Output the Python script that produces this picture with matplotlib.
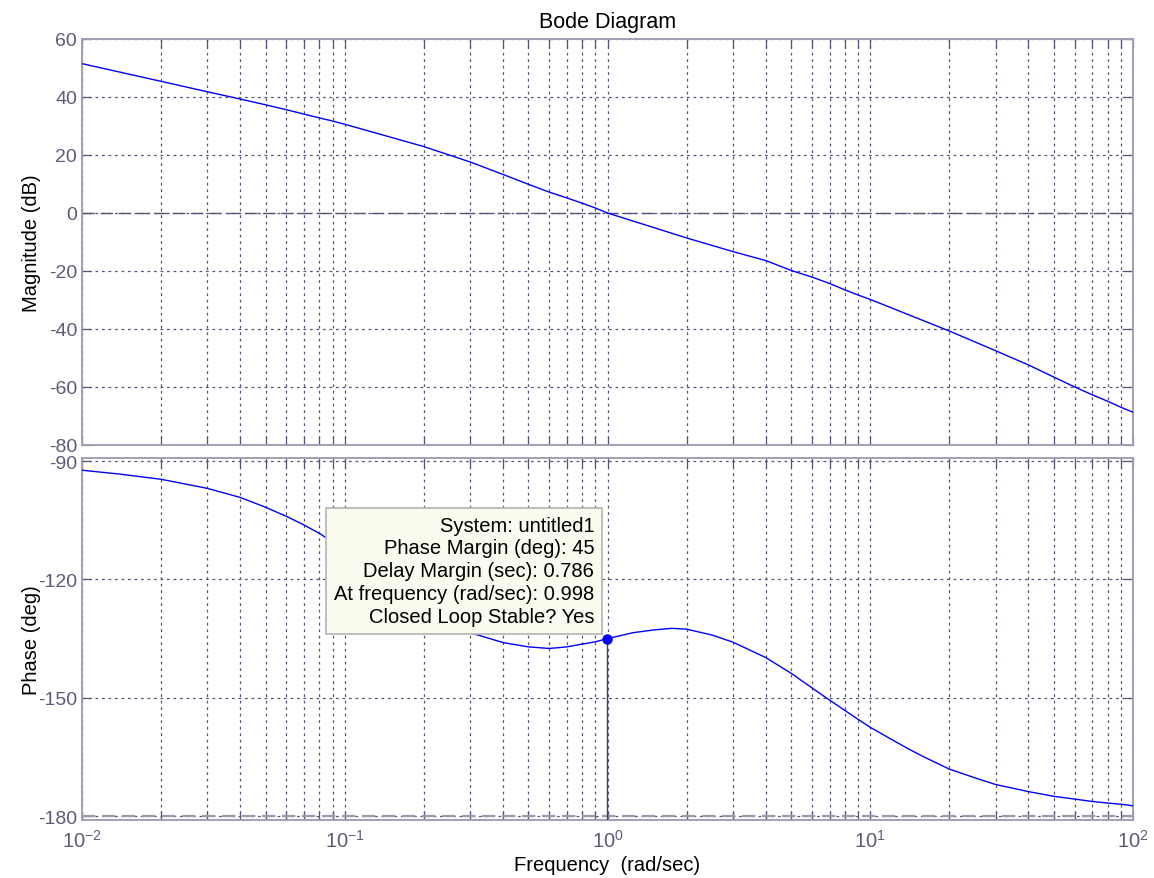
import matplotlib
matplotlib.use("Agg")
import matplotlib.pyplot as plt
from matplotlib.ticker import LogLocator, NullFormatter, FixedLocator

plt.rcParams['font.family'] = ['Liberation Sans', 'DejaVu Sans']
plt.rcParams['mathtext.fontset'] = 'custom'
plt.rcParams['mathtext.rm'] = 'Liberation Sans'
plt.rcParams['mathtext.it'] = 'Liberation Sans:italic'
plt.rcParams['axes.unicode_minus'] = False

# ---- data ----
freq_mag = [0.01, 0.02, 0.03, 0.04, 0.05, 0.06, 0.07, 0.08, 0.09, 0.1,
            0.2, 0.3, 0.4, 0.5, 0.6, 0.7, 0.8, 0.9, 1.0,
            2, 3, 4, 5, 6, 7, 8, 9, 10,
            20, 30, 40, 50, 60, 70, 80, 90, 100]
mag_db = [51.5, 45.4, 41.8, 39.3, 37.3, 35.6, 34.1, 32.8, 31.7, 30.6,
          22.9, 17.6, 13.3, 9.9, 7.2, 5.2, 3.4, 1.7, 0.0,
          -8.6, -13.3, -16.4, -19.8, -22.1, -24.3, -26.5, -28.3, -29.8,
          -40.7, -47.5, -52.4, -56.6, -60.0, -62.7, -64.9, -67.0, -68.7]

freq_ph = [0.01, 0.014, 0.02, 0.03, 0.04, 0.05, 0.06, 0.07, 0.08, 0.1, 0.15,
           0.2, 0.25, 0.3, 0.4, 0.5, 0.6, 0.7, 0.8, 0.9, 1.0,
           1.25, 1.5, 1.75, 2, 2.5, 3, 4, 5, 6, 7, 8, 9, 10,
           12, 14, 16, 20, 25, 30, 40, 50, 60, 70, 80, 90, 100]
phase_deg = [-92.3, -93.3, -94.6, -96.9, -99.2, -101.7, -104.0, -106.2, -108.3, -112.5, -121.5,
             -127.5, -131.3, -133.5, -136.0, -137.1, -137.5, -137.1, -136.4, -135.8, -135.0,
             -133.5, -132.8, -132.4, -132.6, -134.1, -135.9, -139.8, -143.8, -147.5, -150.6, -153.2, -155.5, -157.5,
             -160.5, -163.0, -165.0, -168.1, -170.3, -172.0, -173.8, -175.0, -175.7, -176.3, -176.7, -177.0, -177.4]

pm_freq = 0.998
pm_phase = -135.0
tip_lines = ["System: untitled1",
             "Phase Margin (deg): 45",
             "Delay Margin (sec): 0.786",
             "At frequency (rad/sec): 0.998",
             "Closed Loop Stable? Yes"]

mag_ticks = [60, 40, 20, 0, -20, -40, -60, -80]
phase_ticks = [-90, -120, -150, -180]

# ---- styling ----
W, H = 1154, 879
fig = plt.figure(figsize=(W / 100, H / 100), dpi=100)
left, right = 82 / W, 1133 / W
ax_m = fig.add_axes([left, 1 - 446 / H, right - left, (446 - 40) / H])
ax_p = fig.add_axes([left, 1 - 821 / H, right - left, (821 - 459) / H], sharex=ax_m)

line_col = '#0000ff'
grid_col = '#55557a'
spine_col = '#a0a0b4'
tick_col = '#5c5c78'

for ax in (ax_m, ax_p):
    ax.set_xscale('log')
    ax.set_xlim(0.01, 100)
    ax.xaxis.set_major_locator(LogLocator(base=10, numticks=10))
    ax.xaxis.set_minor_locator(LogLocator(base=10, subs=range(2, 10), numticks=100))
    ax.xaxis.set_minor_formatter(NullFormatter())
    ax.grid(True, which='major', axis='both', color=grid_col, linestyle=(0, (2.2, 3)), linewidth=0.9)
    ax.grid(True, which='minor', axis='x', color=grid_col, linestyle=(0, (2.2, 3)), linewidth=0.9)
    for s in ax.spines.values():
        s.set_color(spine_col)
        s.set_linewidth(1.4)
    ax.tick_params(which='both', direction='in', top=True, right=True,
                   length=6.5, width=0.9, color=grid_col, labelcolor=tick_col)
    ax.tick_params(axis='y', labelsize=14, pad=3.5)
    ax.tick_params(axis='x', labelsize=14.5, pad=6.5)
    ax.set_axisbelow(True)

# magnitude
ax_m.plot(freq_mag, mag_db, color=line_col, linewidth=1.0, zorder=3)
ax_m.axhline(0, color=grid_col, linestyle=(0, (9, 4)), linewidth=1.0, zorder=2)
ax_m.set_ylim(-80, 60)
ax_m.yaxis.set_major_locator(FixedLocator(mag_ticks))
ax_m.tick_params(axis='x', labelbottom=False)
ax_m.set_ylabel('Magnitude (dB)', fontsize=14.5, color='black')
ax_m.yaxis.set_label_coords(-0.039, 0.5)
ax_m.set_title('Bode Diagram', fontsize=15.5, color='black', pad=8.5)

# phase
ax_p.plot(freq_ph, phase_deg, color=line_col, linewidth=1.0, zorder=3)
ax_p.axhline(-180, color='#9a9aaa', linestyle=(0, (6, 3)), linewidth=1.6, zorder=2)
ax_p.set_ylim(-181.0, -89.2)
ax_p.yaxis.set_major_locator(FixedLocator(phase_ticks))
ax_p.plot([pm_freq, pm_freq], [-181.0, pm_phase], color='#3c3c78', linewidth=1.0, zorder=3)
ax_p.plot([pm_freq], [pm_phase], 'o', color=line_col, markersize=6.5, zorder=5)
ax_p.set_ylabel('Phase (deg)', fontsize=14.5, color='black')
ax_p.yaxis.set_label_coords(-0.039, 0.5)
ax_p.set_xlabel('Frequency  (rad/sec)', fontsize=14.5, color='black', labelpad=3)

ax_p.annotate("\n".join(tip_lines), xy=(pm_freq, pm_phase), xytext=(-13, 13),
              textcoords='offset pixels', ha='right', va='bottom', multialignment='right',
              fontsize=14.5, linespacing=1.25, color='black', zorder=6,
              bbox=dict(boxstyle='square,pad=0.4', facecolor='#fbfaee', edgecolor='#b4b4b4', linewidth=1.2))

fig.savefig('out.png', dpi=100)
